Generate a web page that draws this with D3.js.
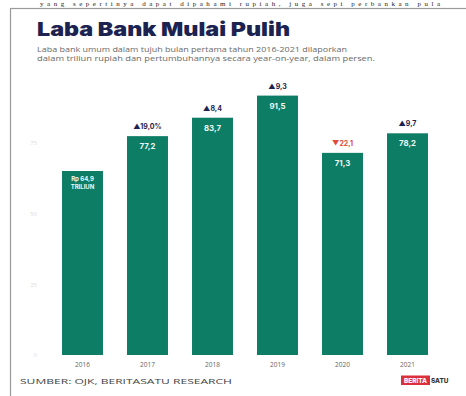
<!DOCTYPE html>
<html>
<head>
<meta charset="utf-8">
<script src="https://cdn.jsdelivr.net/npm/d3@7"></script>
<style>
  html, body { margin: 0; padding: 0; background: #fff; }
  svg { display: block; }
</style>
</head>
<body>
<svg id="chart" width="466" height="396"></svg>
<script>
// Laba bank umum, tujuh bulan pertama (triliun rupiah)
const years = ["2016", "2017", "2018", "2019", "2020", "2021"];
const profit = [64.9, 77.2, 83.7, 91.5, 71.3, 78.2];
const growth = [null, "19,0%", "8,4", "9,3", "22,1", "9,7"];
const growthUp = [null, true, true, true, false, true];
const yTicks = [0, 25, 50, 75];

const svg = d3.select("#chart");
const green = "#0d7d65";
const navy = "#1c2350";

// page text running above the card
svg.append("text")
  .attr("x", 40).attr("y", 6)
  .attr("font-family", "Liberation Serif, serif")
  .attr("font-size", 7)
  .attr("textLength", 400)
  .attr("lengthAdjust", "spacing")
  .attr("fill", "#222")
  .text("yang sepertinya dapat dipahami rupiah, juga sepi perbankan pula");

// card frame
svg.append("rect")
  .attr("x", 10.5).attr("y", 8.5)
  .attr("width", 470).attr("height", 400)
  .attr("fill", "#fff")
  .attr("stroke", "#9a9a9a")
  .attr("stroke-width", 1.2);

// title and subtitle
svg.append("text")
  .attr("x", 37).attr("y", 36)
  .attr("font-family", "Inter, DejaVu Sans, sans-serif")
  .attr("font-weight", 900)
  .attr("font-size", 19)
  .attr("textLength", 253)
  .attr("lengthAdjust", "spacingAndGlyphs")
  .attr("fill", navy)
  .text("Laba Bank Mulai Pulih");

const sub = [
  "Laba bank umum dalam tujuh bulan pertama tahun 2016-2021 dilaporkan",
  "dalam triliun rupiah dan pertumbuhannya secara year-on-year, dalam persen."
];
const subLen = [310, 338];
svg.selectAll("text.sub").data(sub).join("text")
  .attr("class", "sub")
  .attr("x", 37)
  .attr("y", (d, i) => 52 + i * 9)
  .attr("font-family", "Open Sans, sans-serif")
  .attr("font-size", 6.8)
  .attr("textLength", (d, i) => subLen[i])
  .attr("lengthAdjust", "spacingAndGlyphs")
  .attr("fill", "#6a6a6a")
  .text(d => d);

// scales
const x = d3.scaleBand()
  .domain(years)
  .range([50, 440])
  .paddingInner(0.37)
  .paddingOuter(0.185);

const y = d3.scaleLinear()
  .domain([0, 100])
  .range([355, 71.5]);

// faint value axis
const yAxis = svg.append("g")
  .attr("transform", "translate(37,0)")
  .call(d3.axisLeft(y).tickValues(yTicks).tickSize(0).tickPadding(0));
yAxis.select(".domain").remove();
yAxis.selectAll("text")
  .attr("font-family", "Open Sans, sans-serif")
  .attr("font-size", 6)
  .attr("fill", "#dcdcdc");

// bars
svg.selectAll("rect.bar").data(years).join("rect")
  .attr("class", "bar")
  .attr("x", d => x(d))
  .attr("y", (d, i) => y(profit[i]))
  .attr("width", x.bandwidth())
  .attr("height", (d, i) => y(0) - y(profit[i]))
  .attr("fill", green);

// value labels inside bars
const fmt = v => d3.format(".1f")(v).replace(".", ",");
svg.selectAll("text.val").data(years).join("text")
  .attr("class", "val")
  .attr("x", d => x(d) + x.bandwidth() / 2)
  .attr("y", (d, i) => y(profit[i]) + (i === 0 ? 9.5 : 13))
  .attr("text-anchor", "middle")
  .attr("font-family", "Inter, DejaVu Sans, sans-serif")
  .attr("font-weight", 700)
  .attr("font-size", (d, i) => i === 0 ? 6 : 7.8)
  .attr("fill", "#eef8f4")
  .each(function (d, i) {
    const t = d3.select(this);
    if (i === 0) {
      t.append("tspan").attr("x", x(d) + x.bandwidth() / 2).text("Rp " + fmt(profit[i]));
      t.append("tspan").attr("x", x(d) + x.bandwidth() / 2).attr("dy", 8).text("TRILIUN");
    } else {
      t.text(fmt(profit[i]));
    }
  });

// growth labels above bars
svg.selectAll("text.gr").data(years.filter((d, i) => growth[i] !== null)).join("text")
  .attr("class", "gr")
  .attr("x", d => x(d) + x.bandwidth() / 2)
  .attr("y", d => y(profit[years.indexOf(d)]) - 7)
  .attr("text-anchor", "middle")
  .attr("font-family", "Inter, DejaVu Sans, sans-serif")
  .attr("font-weight", 700)
  .attr("font-size", 7)
  .attr("fill", d => growthUp[years.indexOf(d)] ? navy : "#e0493a")
  .text(d => {
    const i = years.indexOf(d);
    return (growthUp[i] ? "▲" : "▼") + growth[i];
  });

// year axis
const xAxis = svg.append("g")
  .attr("transform", "translate(0,362)")
  .call(d3.axisBottom(x).tickSize(0).tickPadding(0));
xAxis.select(".domain").remove();
xAxis.selectAll("text")
  .attr("dy", "0.71em")
  .attr("font-family", "Open Sans, sans-serif")
  .attr("font-size", 6.5)
  .attr("fill", "#666");

// source
svg.append("text")
  .attr("x", 20).attr("y", 384)
  .attr("font-family", "Open Sans, sans-serif")
  .attr("font-size", 7.5)
  .attr("textLength", 212)
  .attr("lengthAdjust", "spacingAndGlyphs")
  .attr("fill", "#444")
  .text("SUMBER: OJK, BERITASATU RESEARCH");

// publisher mark
svg.append("rect")
  .attr("x", 401).attr("y", 375.5)
  .attr("width", 29).attr("height", 9.5)
  .attr("fill", "#d9303c");
svg.append("text")
  .attr("x", 415.5).attr("y", 383)
  .attr("text-anchor", "middle")
  .attr("font-family", "Inter, DejaVu Sans, sans-serif")
  .attr("font-weight", 800)
  .attr("font-size", 6.4)
  .attr("fill", "#fff")
  .text("BERITA");
svg.append("text")
  .attr("x", 431).attr("y", 383)
  .attr("font-family", "Inter, DejaVu Sans, sans-serif")
  .attr("font-weight", 800)
  .attr("font-size", 6.4)
  .attr("fill", "#333")
  .text("SATU");
</script>
</body>
</html>
